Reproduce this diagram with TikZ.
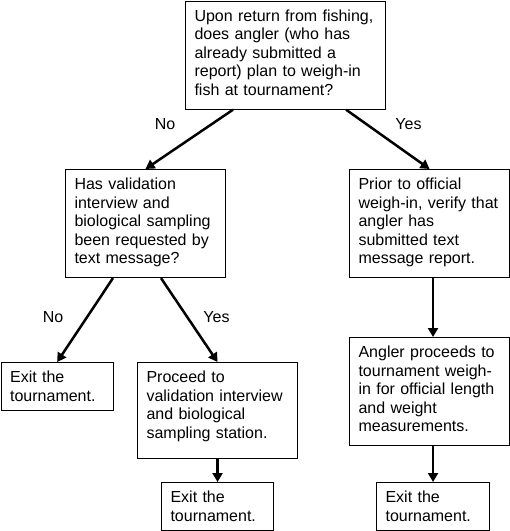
\documentclass[tikz,border=0pt]{standalone}
\usepackage{fontspec}
\setmainfont{Liberation Sans}
\usetikzlibrary{arrows.meta}

\begin{document}
\begin{tikzpicture}[x=1pt, y=-1pt,
        every node/.style={font=\fontsize{16}{18.5}\selectfont},
        box/.style={draw, line width=1.1pt, anchor=north west, align=left,
            inner xsep=9pt, inner ysep=8pt, text height=12pt},
        answer/.style={anchor=base},
        link/.style={line width=2.5pt, -{Triangle[length=9pt,width=10pt]}}]
            \useasboundingbox (0,0) rectangle (510,531);
            \draw (185,0.6) node[box, text width=182pt, text depth=80pt](0){Upon return from fishing,\\does angler (who has\\already submitted a\\report) plan to weigh-in\\fish at tournament?};
            \draw (65,169) node[box, text width=142pt, text depth=80pt](1){Has validation\\interview and\\biological sampling\\been requested by\\text message?};
            \draw (349,169) node[box, text width=142pt, text depth=80pt](2){Prior to official\\weigh-in, verify that\\angler has\\submitted text\\message report.};
            \draw (0.6,362) node[box, text width=94pt, text depth=20pt](3){Exit the\\tournament.};
            \draw (137,362) node[box, text width=142pt, text depth=68pt](4){Proceed to\\validation interview\\and biological\\sampling station.};
            \draw (349,337) node[box, text width=142pt, text depth=80pt](5){Angler proceeds to\\tournament weigh-\\in for official length\\and weight\\measurements.};
            \draw (161,482) node[box, text width=94pt, text depth=20pt](6){Exit the\\tournament.};
            \draw (376,482) node[box, text width=95pt, text depth=20pt](7){Exit the\\tournament.};
            \draw (165,129.5) node[answer](8){No};
            \draw (408.5,129.5) node[answer](9){Yes};
            \draw (53,322) node[answer](10){No};
            \draw (216.5,322) node[answer](11){Yes};
            \draw[link] ([xshift=48pt]0.south west) -- (1.north);
            \draw[link] ([xshift=-40pt]0.south east) -- (2.north);
            \draw[link] ([xshift=48pt]1.south west) -- (3.north);
            \draw[link] ([xshift=96pt]1.south west) -- (4.north);
            \draw[link] (2.south -| 7.north) -- (5.north -| 7.north);
            \draw[link] (4) -- (6);
            \draw[link] (5.south -| 7.north) -- (7);
        \end{tikzpicture}
\end{document}
